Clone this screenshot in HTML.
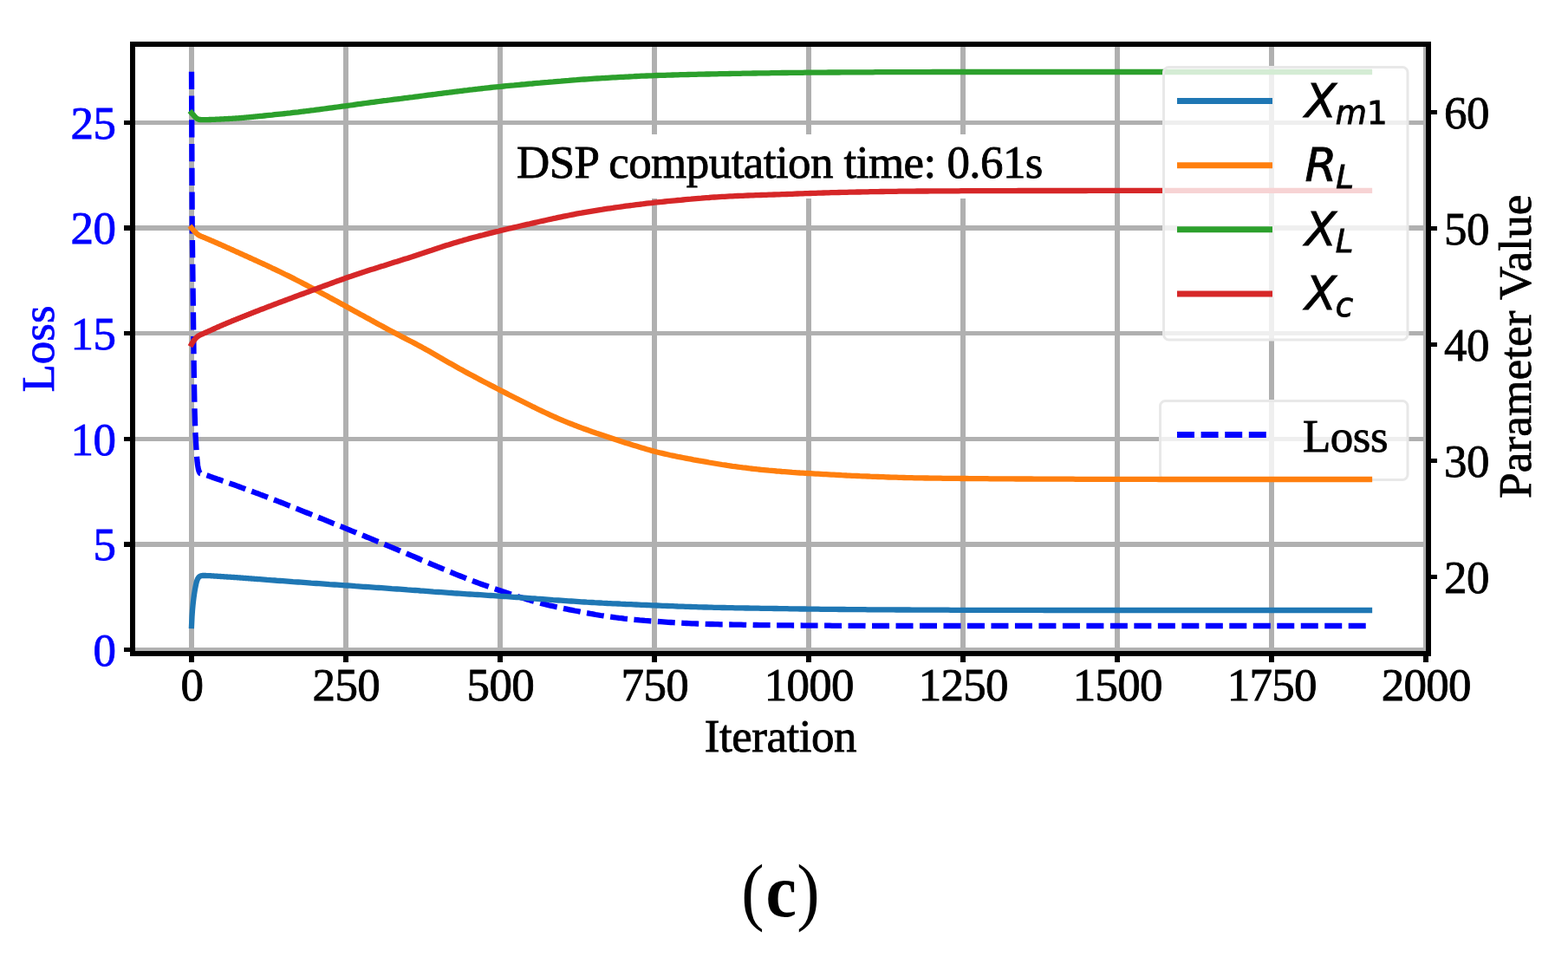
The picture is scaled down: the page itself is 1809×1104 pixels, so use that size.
<!DOCTYPE html>
<html lang="en"><head><meta charset="utf-8"><title>Loss and parameter convergence (c)</title>
<style>
html,body{margin:0;padding:0;background:#fff;}
body{width:1809px;height:1104px;overflow:hidden;}
svg{display:block;}
text{font-family:"Liberation Serif","Times New Roman",serif;font-size:53px;fill:#000;stroke:#000;stroke-width:0.8px;}
.b{fill:#00f;stroke:#00f;}
.m{font-family:"DejaVu Sans","Liberation Sans",sans-serif;font-style:italic;stroke-width:0.9px;}
.mr{font-family:"DejaVu Sans","Liberation Sans",sans-serif;font-style:normal;}
.ln{fill:none;stroke-width:6.3;stroke-linecap:square;stroke-linejoin:round;}
.ds{fill:none;stroke:#00f;stroke-width:6.3;stroke-linejoin:round;}
</style></head><body>
<svg width="1809" height="1104" viewBox="0 0 1809 1104">
<rect width="1809" height="1104" fill="#fff"/>
<defs><clipPath id="ax"><rect x="153" y="51" width="1495" height="703"/></clipPath></defs>

<g clip-path="url(#ax)" stroke="#b0b0b0" stroke-width="6" fill="none">
<line x1="221" y1="51" x2="221" y2="754"/>
<line x1="399" y1="51" x2="399" y2="754"/>
<line x1="577" y1="51" x2="577" y2="754"/>
<line x1="755" y1="51" x2="755" y2="754"/>
<line x1="933" y1="51" x2="933" y2="754"/>
<line x1="1111" y1="51" x2="1111" y2="754"/>
<line x1="1289" y1="51" x2="1289" y2="754"/>
<line x1="1467" y1="51" x2="1467" y2="754"/>
<line x1="1645" y1="51" x2="1645" y2="754"/>
<rect x="153" y="747" width="1495" height="5" fill="#b0b0b0" stroke="none"/>
<rect x="153" y="625" width="1495" height="6" fill="#b0b0b0" stroke="none"/>
<rect x="153" y="504" width="1495" height="5" fill="#b0b0b0" stroke="none"/>
<rect x="153" y="382" width="1495" height="5" fill="#b0b0b0" stroke="none"/>
<rect x="153" y="260" width="1495" height="6" fill="#b0b0b0" stroke="none"/>
<rect x="153" y="139" width="1495" height="5" fill="#b0b0b0" stroke="none"/>
</g>
<g transform="scale(1 1.0157)"><path class="ds" d="M221.00 81.52 L221.71 255.98 L222.42 313.08 L223.14 371.17 L223.85 428.28 L224.56 465.69 L225.27 489.32 L225.98 502.12 L226.70 513.93 L227.41 522.79 L228.12 528.70 L228.83 532.64 L229.54 535.10 L230.26 536.58 L230.97 537.56 L232.50 537.86 L234.00 538.35" stroke-dasharray="19.89 7.43"/></g>
<path class="ds" d="M234.0 546.8 L237.0 547.8 L240.0 548.8 L243.0 549.9 L246.0 551.0 L249.0 552.0 L252.0 553.1 L255.0 554.1 L258.0 555.1 L261.0 556.2 L264.0 557.2 L267.0 558.3 L270.0 559.3 L273.0 560.4 L276.0 561.5 L279.0 562.6 L282.0 563.7 L285.0 564.8 L288.0 565.9 L291.0 567.0 L294.0 568.1 L297.0 569.2 L300.0 570.4 L303.0 571.5 L306.0 572.6 L309.0 573.8 L312.0 574.9 L315.0 576.1 L318.0 577.2 L321.0 578.4 L324.0 579.5 L327.0 580.7 L330.0 581.9 L333.0 583.1 L336.0 584.3 L339.0 585.5 L342.0 586.7 L345.0 587.9 L348.0 589.1 L351.0 590.3 L354.0 591.5 L357.0 592.7 L360.0 593.9 L363.0 595.1 L366.0 596.3 L369.0 597.5 L372.0 598.7 L375.0 599.9 L378.0 601.1 L381.0 602.3 L384.0 603.6 L387.0 604.8 L390.0 606.0 L393.0 607.2 L396.0 608.4 L399.0 609.6 L402.0 610.8 L405.0 612.1 L408.0 613.3 L411.0 614.5 L414.0 615.8 L417.0 617.0 L420.0 618.2 L423.0 619.5 L426.0 620.7 L429.0 621.9 L432.0 623.2 L435.0 624.4 L438.0 625.6 L441.0 626.9 L444.0 628.1 L447.0 629.4 L450.0 630.6 L453.0 631.8 L456.0 633.1 L459.0 634.3 L462.0 635.6 L465.0 636.9 L468.0 638.1 L471.0 639.4 L474.0 640.7 L477.0 641.9 L480.0 643.2 L483.0 644.5 L486.0 645.8 L489.0 647.0 L492.0 648.3 L495.0 649.6 L498.0 650.9 L501.0 652.1 L504.0 653.4 L507.0 654.6 L510.0 655.9 L513.0 657.1 L516.0 658.4 L519.0 659.6 L522.0 660.8 L525.0 662.1 L528.0 663.3 L531.0 664.5 L534.0 665.7 L537.0 666.9 L540.0 668.1 L543.0 669.3 L546.0 670.4 L549.0 671.5 L552.0 672.6 L555.0 673.7 L558.0 674.8 L561.0 675.8 L564.0 676.9 L567.0 677.9 L570.0 678.9 L573.0 679.9 L576.0 680.9 L579.0 682.0 L582.0 683.0 L585.0 684.0 L588.0 685.0 L591.0 685.9 L594.0 686.9 L597.0 687.9 L600.0 688.9 L603.0 689.8 L606.0 690.7 L609.0 691.7 L612.0 692.6 L615.0 693.4 L618.0 694.3 L621.0 695.1 L624.0 695.9 L627.0 696.7 L630.0 697.4 L633.0 698.2 L636.0 698.9 L639.0 699.5 L642.0 700.2 L645.0 700.8 L648.0 701.5 L651.0 702.1 L654.0 702.7 L657.0 703.3 L660.0 703.9 L663.0 704.5 L666.0 705.0 L669.0 705.6 L672.0 706.2 L675.0 706.8 L678.0 707.3 L681.0 707.9 L684.0 708.4 L687.0 709.0 L690.0 709.5 L693.0 710.0 L696.0 710.4 L699.0 710.9 L702.0 711.3 L705.0 711.7 L708.0 712.1 L711.0 712.5 L714.0 712.9 L717.0 713.2 L720.0 713.6 L723.0 713.9 L726.0 714.2 L729.0 714.5 L732.0 714.8 L735.0 715.1 L738.0 715.4 L741.0 715.6 L744.0 715.9 L747.0 716.1 L750.0 716.4 L753.0 716.6 L756.0 716.8 L759.0 717.0 L762.0 717.2 L765.0 717.4 L768.0 717.6 L771.0 717.8 L774.0 718.0 L777.0 718.2 L780.0 718.4 L783.0 718.5 L786.0 718.7 L789.0 718.9 L792.0 719.0 L795.0 719.1 L798.0 719.3 L801.0 719.4 L804.0 719.5 L807.0 719.6 L810.0 719.7 L813.0 719.8 L816.0 719.9 L819.0 720.0 L822.0 720.0 L825.0 720.1 L828.0 720.2 L831.0 720.3 L834.0 720.3 L837.0 720.4 L840.0 720.5 L843.0 720.5 L846.0 720.6 L849.0 720.6 L852.0 720.7 L855.0 720.7 L858.0 720.8 L861.0 720.8 L864.0 720.9 L867.0 720.9 L870.0 721.0 L873.0 721.0 L876.0 721.1 L879.0 721.1 L882.0 721.1 L885.0 721.2 L888.0 721.2 L891.0 721.2 L894.0 721.3 L897.0 721.3 L900.0 721.3 L903.0 721.4 L906.0 721.4 L909.0 721.4 L912.0 721.4 L915.0 721.5 L918.0 721.5 L921.0 721.5 L924.0 721.5 L927.0 721.6 L930.0 721.6 L933.0 721.6 L936.0 721.6 L939.0 721.6 L942.0 721.7 L945.0 721.7 L948.0 721.7 L951.0 721.7 L954.0 721.7 L957.0 721.7 L960.0 721.8 L963.0 721.8 L966.0 721.8 L969.0 721.8 L972.0 721.8 L975.0 721.9 L978.0 721.9 L981.0 721.9 L984.0 721.9 L987.0 721.9 L990.0 721.9 L993.0 721.9 L996.0 721.9 L999.0 722.0 L1002.0 722.0 L1005.0 722.0 L1008.0 722.0 L1011.0 722.0 L1014.0 722.0 L1017.0 722.0 L1020.0 722.0 L1023.0 722.0 L1026.0 722.0 L1029.0 722.0 L1032.0 722.0 L1035.0 722.0 L1038.0 722.0 L1041.0 722.0 L1044.0 722.0 L1047.0 722.0 L1050.0 722.0 L1053.0 722.0 L1056.0 722.0 L1059.0 722.0 L1062.0 722.0 L1065.0 722.0 L1068.0 722.0 L1071.0 722.0 L1074.0 722.0 L1077.0 722.0 L1080.0 722.0 L1083.0 722.0 L1086.0 722.0 L1089.0 722.0 L1092.0 722.0 L1095.0 722.0 L1098.0 722.0 L1101.0 722.0 L1104.0 722.0 L1107.0 722.0 L1110.0 722.0 L1113.0 722.0 L1116.0 722.0 L1119.0 722.0 L1122.0 722.0 L1125.0 722.0 L1128.0 722.0 L1131.0 722.0 L1134.0 722.0 L1137.0 722.0 L1140.0 722.0 L1143.0 722.0 L1146.0 722.0 L1149.0 722.0 L1152.0 722.0 L1155.0 722.0 L1158.0 722.0 L1161.0 722.0 L1164.0 722.0 L1167.0 722.0 L1170.0 722.0 L1173.0 722.0 L1176.0 722.0 L1179.0 722.0 L1182.0 722.0 L1185.0 722.0 L1188.0 722.0 L1191.0 722.0 L1194.0 722.0 L1197.0 722.0 L1200.0 722.0 L1203.0 722.0 L1206.0 722.0 L1209.0 722.0 L1212.0 722.0 L1215.0 722.0 L1218.0 722.0 L1221.0 722.0 L1224.0 722.0 L1227.0 722.0 L1230.0 722.0 L1233.0 722.0 L1236.0 722.0 L1239.0 722.0 L1242.0 722.0 L1245.0 722.0 L1248.0 722.0 L1251.0 722.0 L1254.0 722.0 L1257.0 722.0 L1260.0 722.0 L1263.0 722.0 L1266.0 722.0 L1269.0 722.0 L1272.0 722.0 L1275.0 722.0 L1278.0 722.0 L1281.0 722.0 L1284.0 722.0 L1287.0 722.0 L1290.0 722.0 L1293.0 722.0 L1296.0 722.0 L1299.0 722.0 L1302.0 722.0 L1305.0 722.0 L1308.0 722.0 L1311.0 722.0 L1314.0 722.0 L1317.0 722.0 L1320.0 722.0 L1323.0 722.0 L1326.0 722.0 L1329.0 722.0 L1332.0 722.0 L1335.0 722.0 L1338.0 722.0 L1341.0 722.0 L1344.0 722.0 L1347.0 722.0 L1350.0 722.0 L1353.0 722.0 L1356.0 722.0 L1359.0 722.0 L1362.0 722.0 L1365.0 722.0 L1368.0 722.0 L1371.0 722.0 L1374.0 722.0 L1377.0 722.0 L1380.0 722.0 L1383.0 722.0 L1386.0 722.0 L1389.0 722.0 L1392.0 722.0 L1395.0 722.0 L1398.0 722.0 L1401.0 722.0 L1404.0 722.0 L1407.0 722.0 L1410.0 722.0 L1413.0 722.0 L1416.0 722.0 L1419.0 722.0 L1422.0 722.0 L1425.0 722.0 L1428.0 722.0 L1431.0 722.0 L1434.0 722.0 L1437.0 722.0 L1440.0 722.0 L1443.0 722.0 L1446.0 722.0 L1449.0 722.0 L1452.0 722.0 L1455.0 722.0 L1458.0 722.0 L1461.0 722.0 L1464.0 722.0 L1467.0 722.0 L1470.0 722.0 L1473.0 722.0 L1476.0 722.0 L1479.0 722.0 L1482.0 722.0 L1485.0 722.0 L1488.0 722.0 L1491.0 722.0 L1494.0 722.0 L1497.0 722.0 L1500.0 722.0 L1503.0 722.0 L1506.0 722.0 L1509.0 722.0 L1512.0 722.0 L1515.0 722.0 L1518.0 722.0 L1521.0 722.0 L1524.0 722.0 L1527.0 722.0 L1530.0 722.0 L1533.0 722.0 L1536.0 722.0 L1539.0 722.0 L1542.0 722.0 L1545.0 722.0 L1548.0 722.0 L1551.0 722.0 L1554.0 722.0 L1557.0 722.0 L1560.0 722.0 L1563.0 722.0 L1566.0 722.0 L1569.0 722.0 L1572.0 722.0 L1575.0 722.0 L1578.0 722.0 L1580.0 722.0" stroke-dasharray="20.0 7.484" stroke-dashoffset="22.74"/>
<rect x="583" y="155" width="634" height="74" fill="#fff"/>
<text transform="translate(596.0 205.0) scale(1 1.0157)" textLength="607.5" lengthAdjust="spacing">DSP computation time: 0.61s</text>
<g stroke="#000" fill="none">
<line x1="221" y1="754" x2="221" y2="764" stroke-width="6"/>
<line x1="399" y1="754" x2="399" y2="764" stroke-width="6"/>
<line x1="577" y1="754" x2="577" y2="764" stroke-width="6"/>
<line x1="755" y1="754" x2="755" y2="764" stroke-width="6"/>
<line x1="933" y1="754" x2="933" y2="764" stroke-width="6"/>
<line x1="1111" y1="754" x2="1111" y2="764" stroke-width="6"/>
<line x1="1289" y1="754" x2="1289" y2="764" stroke-width="6"/>
<line x1="1467" y1="754" x2="1467" y2="764" stroke-width="6"/>
<line x1="1645" y1="754" x2="1645" y2="764" stroke-width="6"/>
<rect x="143" y="747" width="10" height="5" fill="#000" stroke="none"/>
<rect x="143" y="625" width="10" height="6" fill="#000" stroke="none"/>
<rect x="143" y="504" width="10" height="5" fill="#000" stroke="none"/>
<rect x="143" y="382" width="10" height="5" fill="#000" stroke="none"/>
<rect x="143" y="260" width="10" height="6" fill="#000" stroke="none"/>
<rect x="143" y="139" width="10" height="5" fill="#000" stroke="none"/>
</g>
<rect x="153" y="51" width="1495" height="703" fill="none" stroke="#000" stroke-width="6"/>
<rect x="1338.5" y="462.5" width="285.5" height="91" rx="6" ry="6" fill="#fff" fill-opacity="0.8" stroke="#e8e8e8" stroke-width="3"/>
<line x1="1358" y1="501.5" x2="1461" y2="501.5" stroke="#00f" stroke-width="7" stroke-dasharray="20 7.6"/>
<text transform="translate(1503.0 520.5) scale(1 1.0157)" textLength="98.6" lengthAdjust="spacing">Loss</text>
<g clip-path="url(#ax)">
<path class="ln" d="M221.0 722.0 L221.5 711.3 L222.0 704.1 L222.5 698.5 L223.0 693.8 L223.5 689.7 L224.0 686.0 L224.5 682.7 L225.0 679.8 L225.5 677.2 L226.0 674.7 L226.5 672.4 L227.0 670.5 L227.5 669.1 L228.0 667.9 L228.5 667.0 L229.0 666.3 L229.5 665.7 L230.0 665.2 L230.5 664.9 L231.0 664.6 L231.5 664.4 L232.0 664.3 L232.5 664.2 L233.0 664.1 L233.5 664.0 L234.0 664.0 L234.5 664.0 L235.0 664.0 L235.5 664.0 L236.0 664.0 L236.5 664.0 L237.0 664.0 L237.5 664.0 L238.0 664.1 L238.5 664.1 L239.0 664.1 L239.5 664.1 L240.0 664.1 L240.5 664.1 L241.0 664.1 L241.5 664.2 L242.0 664.2 L242.5 664.2 L243.0 664.2 L243.5 664.3 L244.0 664.3 L244.5 664.3 L245.0 664.4 L245.5 664.4 L246.0 664.4 L246.5 664.5 L247.0 664.5 L247.5 664.6 L248.0 664.6 L248.5 664.6 L249.0 664.6 L249.5 664.7 L250.0 664.7 L250.5 664.7 L251.0 664.8 L251.5 664.8 L252.0 664.8 L252.5 664.9 L253.0 664.9 L253.5 664.9 L254.0 665.0 L254.5 665.0 L255.0 665.0 L255.5 665.1 L256.0 665.1 L256.5 665.1 L257.0 665.2 L257.5 665.2 L258.0 665.2 L258.5 665.3 L259.0 665.3 L259.5 665.3 L260.0 665.4 L260.5 665.4 L261.0 665.4 L261.5 665.5 L262.0 665.5 L262.5 665.5 L263.0 665.6 L263.5 665.6 L264.0 665.6 L264.5 665.6 L265.0 665.7 L265.5 665.7 L266.0 665.7 L266.5 665.8 L267.0 665.8 L267.5 665.8 L268.0 665.9 L268.5 665.9 L269.0 665.9 L269.5 666.0 L270.0 666.0 L270.5 666.0 L271.0 666.1 L271.5 666.1 L272.0 666.1 L272.5 666.2 L273.0 666.2 L273.5 666.2 L274.0 666.3 L274.5 666.3 L275.0 666.4 L275.5 666.4 L276.0 666.4 L276.5 666.5 L277.0 666.5 L277.5 666.5 L278.0 666.6 L278.5 666.6 L279.0 666.7 L279.5 666.7 L280.0 666.7 L280.5 666.8 L281.0 666.8 L281.5 666.8 L282.0 666.9 L282.5 666.9 L283.0 667.0 L283.5 667.0 L284.0 667.0 L284.5 667.1 L285.0 667.1 L285.5 667.2 L286.0 667.2 L286.5 667.2 L287.0 667.3 L287.5 667.3 L288.0 667.4 L288.5 667.4 L289.0 667.4 L289.5 667.5 L290.0 667.5 L290.5 667.5 L291.0 667.6 L291.5 667.6 L292.0 667.7 L292.5 667.7 L293.0 667.7 L293.5 667.8 L294.0 667.8 L294.5 667.9 L295.0 667.9 L295.5 667.9 L296.0 668.0 L296.5 668.0 L297.0 668.0 L297.5 668.1 L298.0 668.1 L298.5 668.2 L299.0 668.2 L299.5 668.2 L302.0 668.4 L305.0 668.6 L308.0 668.9 L311.0 669.1 L314.0 669.3 L317.0 669.5 L320.0 669.8 L323.0 670.0 L326.0 670.2 L329.0 670.4 L332.0 670.6 L335.0 670.8 L338.0 671.1 L341.0 671.3 L344.0 671.5 L347.0 671.7 L350.0 671.9 L353.0 672.1 L356.0 672.3 L359.0 672.6 L362.0 672.8 L365.0 673.0 L368.0 673.2 L371.0 673.4 L374.0 673.6 L377.0 673.8 L380.0 674.1 L383.0 674.3 L386.0 674.5 L389.0 674.7 L392.0 674.9 L395.0 675.1 L398.0 675.3 L401.0 675.5 L404.0 675.7 L407.0 675.9 L410.0 676.2 L413.0 676.4 L416.0 676.6 L419.0 676.8 L422.0 677.0 L425.0 677.2 L428.0 677.4 L431.0 677.6 L434.0 677.8 L437.0 678.0 L440.0 678.2 L443.0 678.4 L446.0 678.6 L449.0 678.8 L452.0 679.1 L455.0 679.3 L458.0 679.5 L461.0 679.7 L464.0 679.9 L467.0 680.1 L470.0 680.4 L473.0 680.6 L476.0 680.8 L479.0 681.0 L482.0 681.2 L485.0 681.5 L488.0 681.7 L491.0 681.9 L494.0 682.1 L497.0 682.3 L500.0 682.6 L503.0 682.8 L506.0 683.0 L509.0 683.2 L512.0 683.4 L515.0 683.6 L518.0 683.8 L521.0 684.0 L524.0 684.3 L527.0 684.5 L530.0 684.7 L533.0 684.9 L536.0 685.1 L539.0 685.3 L542.0 685.5 L545.0 685.7 L548.0 685.9 L551.0 686.0 L554.0 686.2 L557.0 686.4 L560.0 686.6 L563.0 686.8 L566.0 687.0 L569.0 687.2 L572.0 687.4 L575.0 687.6 L578.0 687.8 L581.0 688.0 L584.0 688.2 L587.0 688.4 L590.0 688.6 L593.0 688.8 L596.0 689.0 L599.0 689.2 L602.0 689.5 L605.0 689.7 L608.0 689.9 L611.0 690.1 L614.0 690.3 L617.0 690.5 L620.0 690.8 L623.0 691.0 L626.0 691.2 L629.0 691.4 L632.0 691.6 L635.0 691.8 L638.0 692.1 L641.0 692.3 L644.0 692.5 L647.0 692.7 L650.0 692.9 L653.0 693.1 L656.0 693.3 L659.0 693.5 L662.0 693.7 L665.0 693.9 L668.0 694.1 L671.0 694.3 L674.0 694.5 L677.0 694.7 L680.0 694.8 L683.0 695.0 L686.0 695.2 L689.0 695.3 L692.0 695.5 L695.0 695.7 L698.0 695.8 L701.0 696.0 L704.0 696.1 L707.0 696.3 L710.0 696.4 L713.0 696.5 L716.0 696.7 L719.0 696.8 L722.0 697.0 L725.0 697.1 L728.0 697.2 L731.0 697.4 L734.0 697.5 L737.0 697.6 L740.0 697.8 L743.0 697.9 L746.0 698.0 L749.0 698.1 L752.0 698.3 L755.0 698.4 L758.0 698.5 L761.0 698.6 L764.0 698.8 L767.0 698.9 L770.0 699.0 L773.0 699.1 L776.0 699.2 L779.0 699.3 L782.0 699.5 L785.0 699.6 L788.0 699.7 L791.0 699.8 L794.0 699.9 L797.0 700.0 L800.0 700.1 L803.0 700.2 L806.0 700.3 L809.0 700.4 L812.0 700.5 L815.0 700.5 L818.0 700.6 L821.0 700.7 L824.0 700.8 L827.0 700.8 L830.0 700.9 L833.0 701.0 L836.0 701.0 L839.0 701.1 L842.0 701.1 L845.0 701.2 L848.0 701.3 L851.0 701.3 L854.0 701.4 L857.0 701.4 L860.0 701.5 L863.0 701.5 L866.0 701.6 L869.0 701.6 L872.0 701.7 L875.0 701.7 L878.0 701.8 L881.0 701.8 L884.0 701.9 L887.0 701.9 L890.0 701.9 L893.0 702.0 L896.0 702.0 L899.0 702.1 L902.0 702.1 L905.0 702.2 L908.0 702.2 L911.0 702.3 L914.0 702.3 L917.0 702.4 L920.0 702.4 L923.0 702.5 L926.0 702.5 L929.0 702.5 L932.0 702.6 L935.0 702.6 L938.0 702.6 L941.0 702.7 L944.0 702.7 L947.0 702.8 L950.0 702.8 L953.0 702.8 L956.0 702.8 L959.0 702.9 L962.0 702.9 L965.0 702.9 L968.0 703.0 L971.0 703.0 L974.0 703.0 L977.0 703.1 L980.0 703.1 L983.0 703.1 L986.0 703.1 L989.0 703.2 L992.0 703.2 L995.0 703.2 L998.0 703.2 L1001.0 703.3 L1004.0 703.3 L1007.0 703.3 L1010.0 703.3 L1013.0 703.3 L1016.0 703.4 L1019.0 703.4 L1022.0 703.4 L1025.0 703.4 L1028.0 703.4 L1031.0 703.4 L1034.0 703.5 L1037.0 703.5 L1040.0 703.5 L1043.0 703.5 L1046.0 703.5 L1049.0 703.5 L1052.0 703.6 L1055.0 703.6 L1058.0 703.6 L1061.0 703.6 L1064.0 703.6 L1067.0 703.6 L1070.0 703.7 L1073.0 703.7 L1076.0 703.7 L1079.0 703.7 L1082.0 703.7 L1085.0 703.7 L1088.0 703.7 L1091.0 703.7 L1094.0 703.7 L1097.0 703.8 L1100.0 703.8 L1103.0 703.8 L1106.0 703.8 L1109.0 703.8 L1112.0 703.8 L1115.0 703.8 L1118.0 703.8 L1121.0 703.8 L1124.0 703.8 L1127.0 703.8 L1130.0 703.8 L1133.0 703.9 L1136.0 703.9 L1139.0 703.9 L1142.0 703.9 L1145.0 703.9 L1148.0 703.9 L1151.0 703.9 L1154.0 703.9 L1157.0 703.9 L1160.0 703.9 L1163.0 703.9 L1166.0 703.9 L1169.0 703.9 L1172.0 703.9 L1175.0 703.9 L1178.0 703.9 L1181.0 703.9 L1184.0 703.9 L1187.0 703.9 L1190.0 703.9 L1193.0 703.9 L1196.0 703.9 L1199.0 703.9 L1202.0 703.9 L1205.0 704.0 L1208.0 704.0 L1211.0 704.0 L1214.0 704.0 L1217.0 704.0 L1220.0 704.0 L1223.0 704.0 L1226.0 704.0 L1229.0 704.0 L1232.0 704.0 L1235.0 704.0 L1238.0 704.0 L1241.0 704.0 L1244.0 704.0 L1247.0 704.0 L1250.0 704.0 L1253.0 704.0 L1256.0 704.0 L1259.0 704.0 L1262.0 704.0 L1265.0 704.0 L1268.0 704.0 L1271.0 704.0 L1274.0 704.0 L1277.0 704.0 L1280.0 704.0 L1283.0 704.0 L1286.0 704.0 L1289.0 704.0 L1292.0 704.0 L1295.0 704.0 L1298.0 704.0 L1301.0 704.0 L1304.0 704.0 L1307.0 704.0 L1310.0 704.0 L1313.0 704.0 L1316.0 704.0 L1319.0 704.0 L1322.0 704.0 L1325.0 704.0 L1328.0 704.0 L1331.0 704.0 L1334.0 704.0 L1337.0 704.0 L1340.0 704.0 L1343.0 704.0 L1346.0 704.0 L1349.0 704.0 L1352.0 704.0 L1355.0 704.0 L1358.0 704.0 L1361.0 704.0 L1364.0 704.0 L1367.0 704.0 L1370.0 704.0 L1373.0 704.0 L1376.0 704.0 L1379.0 704.0 L1382.0 704.0 L1385.0 704.0 L1388.0 704.0 L1391.0 704.0 L1394.0 704.0 L1397.0 704.0 L1400.0 704.0 L1403.0 704.0 L1406.0 704.0 L1409.0 704.0 L1412.0 704.0 L1415.0 704.0 L1418.0 704.0 L1421.0 704.0 L1424.0 704.0 L1427.0 704.0 L1430.0 704.0 L1433.0 704.0 L1436.0 704.0 L1439.0 704.0 L1442.0 704.0 L1445.0 704.0 L1448.0 704.0 L1451.0 704.0 L1454.0 704.0 L1457.0 704.0 L1460.0 704.0 L1463.0 704.0 L1466.0 704.0 L1469.0 704.0 L1472.0 704.0 L1475.0 704.0 L1478.0 704.0 L1481.0 704.0 L1484.0 704.0 L1487.0 704.0 L1490.0 704.0 L1493.0 704.0 L1496.0 704.0 L1499.0 704.0 L1502.0 704.0 L1505.0 704.0 L1508.0 704.0 L1511.0 704.0 L1514.0 704.0 L1517.0 704.0 L1520.0 704.0 L1523.0 704.0 L1526.0 704.0 L1529.0 704.0 L1532.0 704.0 L1535.0 704.0 L1538.0 704.0 L1541.0 704.0 L1544.0 704.0 L1547.0 704.0 L1550.0 704.0 L1553.0 704.0 L1556.0 704.0 L1559.0 704.0 L1562.0 704.0 L1565.0 704.0 L1568.0 704.0 L1571.0 704.0 L1574.0 704.0 L1577.0 704.0 L1580.0 704.0" stroke="#1f77b4"/>
<path class="ln" d="M221.0 263.0 L221.5 263.6 L222.0 264.2 L222.5 264.8 L223.0 265.4 L223.5 265.9 L224.0 266.5 L224.5 267.0 L225.0 267.5 L225.5 268.1 L226.0 268.6 L226.5 269.0 L227.0 269.5 L227.5 269.9 L228.0 270.3 L228.5 270.7 L229.0 271.1 L229.5 271.4 L230.0 271.7 L230.5 271.9 L231.0 272.2 L231.5 272.4 L232.0 272.6 L232.5 272.8 L233.0 273.0 L233.5 273.2 L234.0 273.4 L234.5 273.6 L235.0 273.8 L235.5 274.0 L236.0 274.2 L236.5 274.4 L237.0 274.6 L237.5 274.8 L238.0 275.1 L238.5 275.3 L239.0 275.5 L239.5 275.7 L240.0 275.9 L240.5 276.1 L241.0 276.3 L241.5 276.5 L242.0 276.7 L242.5 277.0 L243.0 277.2 L243.5 277.4 L244.0 277.6 L244.5 277.8 L245.0 278.0 L245.5 278.3 L246.0 278.5 L246.5 278.7 L247.0 278.9 L247.5 279.1 L248.0 279.3 L248.5 279.6 L249.0 279.8 L249.5 280.0 L250.0 280.2 L250.5 280.4 L251.0 280.7 L251.5 280.9 L252.0 281.1 L252.5 281.3 L253.0 281.5 L253.5 281.8 L254.0 282.0 L254.5 282.2 L255.0 282.4 L255.5 282.6 L256.0 282.9 L256.5 283.1 L257.0 283.3 L257.5 283.5 L258.0 283.8 L258.5 284.0 L259.0 284.2 L259.5 284.4 L260.0 284.7 L260.5 284.9 L261.0 285.1 L261.5 285.3 L262.0 285.6 L262.5 285.8 L263.0 286.0 L263.5 286.2 L264.0 286.4 L264.5 286.7 L265.0 286.9 L265.5 287.1 L266.0 287.3 L266.5 287.6 L267.0 287.8 L267.5 288.0 L268.0 288.2 L268.5 288.5 L269.0 288.7 L269.5 288.9 L270.0 289.2 L270.5 289.4 L271.0 289.6 L271.5 289.8 L272.0 290.1 L272.5 290.3 L273.0 290.5 L273.5 290.7 L274.0 291.0 L274.5 291.2 L275.0 291.4 L275.5 291.6 L276.0 291.9 L276.5 292.1 L277.0 292.3 L277.5 292.5 L278.0 292.8 L278.5 293.0 L279.0 293.2 L279.5 293.4 L280.0 293.7 L280.5 293.9 L281.0 294.1 L281.5 294.3 L282.0 294.6 L282.5 294.8 L283.0 295.0 L283.5 295.2 L284.0 295.5 L284.5 295.7 L285.0 295.9 L285.5 296.1 L286.0 296.4 L286.5 296.6 L287.0 296.8 L287.5 297.0 L288.0 297.3 L288.5 297.5 L289.0 297.7 L289.5 298.0 L290.0 298.2 L290.5 298.4 L291.0 298.6 L291.5 298.9 L292.0 299.1 L292.5 299.3 L293.0 299.5 L293.5 299.8 L294.0 300.0 L294.5 300.2 L295.0 300.5 L295.5 300.7 L296.0 300.9 L296.5 301.1 L297.0 301.4 L297.5 301.6 L298.0 301.8 L298.5 302.1 L299.0 302.3 L299.5 302.5 L302.0 303.7 L305.0 305.0 L308.0 306.4 L311.0 307.8 L314.0 309.3 L317.0 310.7 L320.0 312.1 L323.0 313.5 L326.0 315.0 L329.0 316.5 L332.0 317.9 L335.0 319.4 L338.0 320.9 L341.0 322.5 L344.0 324.0 L347.0 325.5 L350.0 327.1 L353.0 328.6 L356.0 330.2 L359.0 331.8 L362.0 333.3 L365.0 334.9 L368.0 336.5 L371.0 338.1 L374.0 339.7 L377.0 341.3 L380.0 343.0 L383.0 344.6 L386.0 346.2 L389.0 347.8 L392.0 349.5 L395.0 351.1 L398.0 352.8 L401.0 354.4 L404.0 356.1 L407.0 357.7 L410.0 359.4 L413.0 361.0 L416.0 362.7 L419.0 364.3 L422.0 366.0 L425.0 367.6 L428.0 369.3 L431.0 370.9 L434.0 372.6 L437.0 374.2 L440.0 375.8 L443.0 377.4 L446.0 379.1 L449.0 380.7 L452.0 382.3 L455.0 383.9 L458.0 385.4 L461.0 387.0 L464.0 388.6 L467.0 390.1 L470.0 391.7 L473.0 393.3 L476.0 394.8 L479.0 396.4 L482.0 398.0 L485.0 399.6 L488.0 401.3 L491.0 402.9 L494.0 404.6 L497.0 406.3 L500.0 408.0 L503.0 409.7 L506.0 411.5 L509.0 413.2 L512.0 415.0 L515.0 416.7 L518.0 418.4 L521.0 420.1 L524.0 421.8 L527.0 423.5 L530.0 425.2 L533.0 426.8 L536.0 428.5 L539.0 430.1 L542.0 431.7 L545.0 433.3 L548.0 434.9 L551.0 436.5 L554.0 438.1 L557.0 439.7 L560.0 441.3 L563.0 442.8 L566.0 444.4 L569.0 445.9 L572.0 447.5 L575.0 449.0 L578.0 450.6 L581.0 452.1 L584.0 453.6 L587.0 455.2 L590.0 456.7 L593.0 458.2 L596.0 459.7 L599.0 461.3 L602.0 462.8 L605.0 464.3 L608.0 465.8 L611.0 467.3 L614.0 468.8 L617.0 470.2 L620.0 471.7 L623.0 473.2 L626.0 474.6 L629.0 476.0 L632.0 477.4 L635.0 478.8 L638.0 480.2 L641.0 481.5 L644.0 482.8 L647.0 484.1 L650.0 485.4 L653.0 486.6 L656.0 487.8 L659.0 489.0 L662.0 490.2 L665.0 491.3 L668.0 492.5 L671.0 493.6 L674.0 494.7 L677.0 495.8 L680.0 496.9 L683.0 498.0 L686.0 499.0 L689.0 500.1 L692.0 501.1 L695.0 502.1 L698.0 503.1 L701.0 504.1 L704.0 505.1 L707.0 506.1 L710.0 507.1 L713.0 508.0 L716.0 509.0 L719.0 509.9 L722.0 510.9 L725.0 511.8 L728.0 512.8 L731.0 513.7 L734.0 514.6 L737.0 515.5 L740.0 516.4 L743.0 517.3 L746.0 518.2 L749.0 519.0 L752.0 519.9 L755.0 520.7 L758.0 521.5 L761.0 522.2 L764.0 522.9 L767.0 523.6 L770.0 524.3 L773.0 525.0 L776.0 525.6 L779.0 526.2 L782.0 526.9 L785.0 527.4 L788.0 528.0 L791.0 528.6 L794.0 529.2 L797.0 529.7 L800.0 530.3 L803.0 530.8 L806.0 531.4 L809.0 531.9 L812.0 532.4 L815.0 532.9 L818.0 533.5 L821.0 534.0 L824.0 534.5 L827.0 535.0 L830.0 535.5 L833.0 536.0 L836.0 536.4 L839.0 536.9 L842.0 537.3 L845.0 537.8 L848.0 538.2 L851.0 538.6 L854.0 539.0 L857.0 539.4 L860.0 539.7 L863.0 540.1 L866.0 540.5 L869.0 540.8 L872.0 541.1 L875.0 541.5 L878.0 541.8 L881.0 542.1 L884.0 542.4 L887.0 542.7 L890.0 542.9 L893.0 543.2 L896.0 543.5 L899.0 543.7 L902.0 544.0 L905.0 544.2 L908.0 544.4 L911.0 544.6 L914.0 544.9 L917.0 545.1 L920.0 545.3 L923.0 545.5 L926.0 545.6 L929.0 545.8 L932.0 546.0 L935.0 546.2 L938.0 546.4 L941.0 546.6 L944.0 546.7 L947.0 546.9 L950.0 547.1 L953.0 547.2 L956.0 547.4 L959.0 547.6 L962.0 547.7 L965.0 547.9 L968.0 548.0 L971.0 548.2 L974.0 548.3 L977.0 548.5 L980.0 548.6 L983.0 548.8 L986.0 548.9 L989.0 549.0 L992.0 549.2 L995.0 549.3 L998.0 549.4 L1001.0 549.5 L1004.0 549.7 L1007.0 549.8 L1010.0 549.9 L1013.0 550.0 L1016.0 550.1 L1019.0 550.2 L1022.0 550.4 L1025.0 550.5 L1028.0 550.6 L1031.0 550.7 L1034.0 550.7 L1037.0 550.8 L1040.0 550.9 L1043.0 551.0 L1046.0 551.1 L1049.0 551.1 L1052.0 551.2 L1055.0 551.3 L1058.0 551.3 L1061.0 551.4 L1064.0 551.4 L1067.0 551.5 L1070.0 551.5 L1073.0 551.6 L1076.0 551.6 L1079.0 551.6 L1082.0 551.7 L1085.0 551.7 L1088.0 551.8 L1091.0 551.8 L1094.0 551.8 L1097.0 551.9 L1100.0 551.9 L1103.0 551.9 L1106.0 551.9 L1109.0 552.0 L1112.0 552.0 L1115.0 552.0 L1118.0 552.1 L1121.0 552.1 L1124.0 552.1 L1127.0 552.1 L1130.0 552.2 L1133.0 552.2 L1136.0 552.2 L1139.0 552.2 L1142.0 552.3 L1145.0 552.3 L1148.0 552.3 L1151.0 552.3 L1154.0 552.3 L1157.0 552.4 L1160.0 552.4 L1163.0 552.4 L1166.0 552.4 L1169.0 552.4 L1172.0 552.5 L1175.0 552.5 L1178.0 552.5 L1181.0 552.5 L1184.0 552.5 L1187.0 552.5 L1190.0 552.5 L1193.0 552.6 L1196.0 552.6 L1199.0 552.6 L1202.0 552.6 L1205.0 552.6 L1208.0 552.6 L1211.0 552.6 L1214.0 552.7 L1217.0 552.7 L1220.0 552.7 L1223.0 552.7 L1226.0 552.7 L1229.0 552.7 L1232.0 552.7 L1235.0 552.7 L1238.0 552.7 L1241.0 552.8 L1244.0 552.8 L1247.0 552.8 L1250.0 552.8 L1253.0 552.8 L1256.0 552.8 L1259.0 552.8 L1262.0 552.8 L1265.0 552.8 L1268.0 552.8 L1271.0 552.8 L1274.0 552.8 L1277.0 552.9 L1280.0 552.9 L1283.0 552.9 L1286.0 552.9 L1289.0 552.9 L1292.0 552.9 L1295.0 552.9 L1298.0 552.9 L1301.0 552.9 L1304.0 552.9 L1307.0 552.9 L1310.0 552.9 L1313.0 552.9 L1316.0 552.9 L1319.0 552.9 L1322.0 552.9 L1325.0 552.9 L1328.0 552.9 L1331.0 552.9 L1334.0 552.9 L1337.0 553.0 L1340.0 553.0 L1343.0 553.0 L1346.0 553.0 L1349.0 553.0 L1352.0 553.0 L1355.0 553.0 L1358.0 553.0 L1361.0 553.0 L1364.0 553.0 L1367.0 553.0 L1370.0 553.0 L1373.0 553.0 L1376.0 553.0 L1379.0 553.0 L1382.0 553.0 L1385.0 553.0 L1388.0 553.0 L1391.0 553.0 L1394.0 553.0 L1397.0 553.0 L1400.0 553.0 L1403.0 553.0 L1406.0 553.0 L1409.0 553.0 L1412.0 553.0 L1415.0 553.0 L1418.0 553.0 L1421.0 553.0 L1424.0 553.0 L1427.0 553.0 L1430.0 553.0 L1433.0 553.0 L1436.0 553.0 L1439.0 553.0 L1442.0 553.0 L1445.0 553.0 L1448.0 553.0 L1451.0 553.0 L1454.0 553.0 L1457.0 553.0 L1460.0 553.0 L1463.0 553.0 L1466.0 553.0 L1469.0 553.0 L1472.0 553.0 L1475.0 553.0 L1478.0 553.0 L1481.0 553.0 L1484.0 553.0 L1487.0 553.0 L1490.0 553.0 L1493.0 553.0 L1496.0 553.0 L1499.0 553.0 L1502.0 553.0 L1505.0 553.0 L1508.0 553.0 L1511.0 553.0 L1514.0 553.0 L1517.0 553.0 L1520.0 553.0 L1523.0 553.0 L1526.0 553.0 L1529.0 553.0 L1532.0 553.0 L1535.0 553.0 L1538.0 553.0 L1541.0 553.0 L1544.0 553.0 L1547.0 553.0 L1550.0 553.0 L1553.0 553.0 L1556.0 553.0 L1559.0 553.0 L1562.0 553.0 L1565.0 553.0 L1568.0 553.0 L1571.0 553.0 L1574.0 553.0 L1577.0 553.0 L1580.0 553.0" stroke="#ff7f0e"/>
<path class="ln" d="M221.0 130.3 L221.5 130.9 L222.0 131.4 L222.5 132.0 L223.0 132.6 L223.5 133.1 L224.0 133.7 L224.5 134.3 L225.0 134.8 L225.5 135.3 L226.0 135.8 L226.5 136.2 L227.0 136.6 L227.5 136.9 L228.0 137.2 L228.5 137.4 L229.0 137.6 L229.5 137.8 L230.0 137.9 L230.5 138.0 L231.0 138.0 L231.5 138.0 L232.0 138.1 L232.5 138.1 L233.0 138.1 L233.5 138.1 L234.0 138.1 L234.5 138.1 L235.0 138.1 L235.5 138.1 L236.0 138.1 L236.5 138.1 L237.0 138.1 L237.5 138.1 L238.0 138.1 L238.5 138.1 L239.0 138.1 L239.5 138.1 L240.0 138.1 L240.5 138.1 L241.0 138.0 L241.5 138.0 L242.0 138.0 L242.5 138.0 L243.0 138.0 L243.5 138.0 L244.0 137.9 L244.5 137.9 L245.0 137.9 L245.5 137.9 L246.0 137.9 L246.5 137.8 L247.0 137.8 L247.5 137.8 L248.0 137.8 L248.5 137.8 L249.0 137.7 L249.5 137.7 L250.0 137.7 L250.5 137.7 L251.0 137.7 L251.5 137.6 L252.0 137.6 L252.5 137.6 L253.0 137.6 L253.5 137.5 L254.0 137.5 L254.5 137.5 L255.0 137.5 L255.5 137.4 L256.0 137.4 L256.5 137.4 L257.0 137.3 L257.5 137.3 L258.0 137.3 L258.5 137.3 L259.0 137.2 L259.5 137.2 L260.0 137.2 L260.5 137.2 L261.0 137.1 L261.5 137.1 L262.0 137.1 L262.5 137.1 L263.0 137.0 L263.5 137.0 L264.0 137.0 L264.5 137.0 L265.0 136.9 L265.5 136.9 L266.0 136.9 L266.5 136.8 L267.0 136.8 L267.5 136.8 L268.0 136.8 L268.5 136.7 L269.0 136.7 L269.5 136.7 L270.0 136.6 L270.5 136.6 L271.0 136.6 L271.5 136.5 L272.0 136.5 L272.5 136.5 L273.0 136.4 L273.5 136.4 L274.0 136.4 L274.5 136.3 L275.0 136.3 L275.5 136.3 L276.0 136.2 L276.5 136.2 L277.0 136.1 L277.5 136.1 L278.0 136.1 L278.5 136.0 L279.0 136.0 L279.5 135.9 L280.0 135.9 L280.5 135.8 L281.0 135.8 L281.5 135.8 L282.0 135.7 L282.5 135.7 L283.0 135.6 L283.5 135.6 L284.0 135.5 L284.5 135.5 L285.0 135.4 L285.5 135.4 L286.0 135.3 L286.5 135.3 L287.0 135.3 L287.5 135.2 L288.0 135.2 L288.5 135.1 L289.0 135.1 L289.5 135.0 L290.0 135.0 L290.5 134.9 L291.0 134.9 L291.5 134.8 L292.0 134.8 L292.5 134.7 L293.0 134.7 L293.5 134.6 L294.0 134.6 L294.5 134.5 L295.0 134.5 L295.5 134.4 L296.0 134.4 L296.5 134.3 L297.0 134.3 L297.5 134.2 L298.0 134.2 L298.5 134.1 L299.0 134.1 L299.5 134.0 L302.0 133.8 L305.0 133.5 L308.0 133.2 L311.0 132.9 L314.0 132.6 L317.0 132.2 L320.0 131.9 L323.0 131.6 L326.0 131.3 L329.0 131.0 L332.0 130.6 L335.0 130.3 L338.0 129.9 L341.0 129.6 L344.0 129.3 L347.0 128.9 L350.0 128.5 L353.0 128.2 L356.0 127.8 L359.0 127.4 L362.0 127.1 L365.0 126.7 L368.0 126.3 L371.0 125.9 L374.0 125.5 L377.0 125.1 L380.0 124.7 L383.0 124.3 L386.0 123.9 L389.0 123.5 L392.0 123.1 L395.0 122.7 L398.0 122.3 L401.0 121.9 L404.0 121.5 L407.0 121.1 L410.0 120.6 L413.0 120.2 L416.0 119.8 L419.0 119.4 L422.0 119.0 L425.0 118.6 L428.0 118.2 L431.0 117.8 L434.0 117.4 L437.0 117.0 L440.0 116.6 L443.0 116.2 L446.0 115.9 L449.0 115.5 L452.0 115.1 L455.0 114.7 L458.0 114.3 L461.0 114.0 L464.0 113.6 L467.0 113.2 L470.0 112.8 L473.0 112.4 L476.0 112.1 L479.0 111.7 L482.0 111.3 L485.0 110.9 L488.0 110.5 L491.0 110.1 L494.0 109.7 L497.0 109.3 L500.0 109.0 L503.0 108.6 L506.0 108.2 L509.0 107.8 L512.0 107.4 L515.0 107.0 L518.0 106.7 L521.0 106.3 L524.0 105.9 L527.0 105.5 L530.0 105.2 L533.0 104.8 L536.0 104.4 L539.0 104.1 L542.0 103.7 L545.0 103.4 L548.0 103.0 L551.0 102.7 L554.0 102.3 L557.0 102.0 L560.0 101.6 L563.0 101.3 L566.0 101.0 L569.0 100.7 L572.0 100.4 L575.0 100.1 L578.0 99.8 L581.0 99.5 L584.0 99.2 L587.0 98.9 L590.0 98.6 L593.0 98.4 L596.0 98.1 L599.0 97.8 L602.0 97.5 L605.0 97.3 L608.0 97.0 L611.0 96.7 L614.0 96.5 L617.0 96.2 L620.0 95.9 L623.0 95.7 L626.0 95.4 L629.0 95.1 L632.0 94.9 L635.0 94.6 L638.0 94.4 L641.0 94.1 L644.0 93.8 L647.0 93.6 L650.0 93.3 L653.0 93.1 L656.0 92.9 L659.0 92.6 L662.0 92.4 L665.0 92.2 L668.0 91.9 L671.0 91.7 L674.0 91.5 L677.0 91.3 L680.0 91.1 L683.0 90.9 L686.0 90.7 L689.0 90.5 L692.0 90.3 L695.0 90.1 L698.0 90.0 L701.0 89.8 L704.0 89.6 L707.0 89.4 L710.0 89.3 L713.0 89.1 L716.0 88.9 L719.0 88.8 L722.0 88.6 L725.0 88.5 L728.0 88.3 L731.0 88.2 L734.0 88.0 L737.0 87.9 L740.0 87.7 L743.0 87.6 L746.0 87.5 L749.0 87.4 L752.0 87.3 L755.0 87.1 L758.0 87.0 L761.0 86.9 L764.0 86.8 L767.0 86.8 L770.0 86.7 L773.0 86.6 L776.0 86.5 L779.0 86.4 L782.0 86.3 L785.0 86.2 L788.0 86.2 L791.0 86.1 L794.0 86.0 L797.0 85.9 L800.0 85.9 L803.0 85.8 L806.0 85.7 L809.0 85.7 L812.0 85.6 L815.0 85.5 L818.0 85.5 L821.0 85.4 L824.0 85.3 L827.0 85.3 L830.0 85.2 L833.0 85.2 L836.0 85.1 L839.0 85.1 L842.0 85.0 L845.0 84.9 L848.0 84.9 L851.0 84.8 L854.0 84.8 L857.0 84.7 L860.0 84.7 L863.0 84.6 L866.0 84.6 L869.0 84.5 L872.0 84.5 L875.0 84.4 L878.0 84.4 L881.0 84.3 L884.0 84.3 L887.0 84.3 L890.0 84.2 L893.0 84.2 L896.0 84.1 L899.0 84.1 L902.0 84.0 L905.0 84.0 L908.0 84.0 L911.0 83.9 L914.0 83.9 L917.0 83.9 L920.0 83.8 L923.0 83.8 L926.0 83.8 L929.0 83.7 L932.0 83.7 L935.0 83.7 L938.0 83.7 L941.0 83.6 L944.0 83.6 L947.0 83.6 L950.0 83.6 L953.0 83.6 L956.0 83.5 L959.0 83.5 L962.0 83.5 L965.0 83.5 L968.0 83.5 L971.0 83.4 L974.0 83.4 L977.0 83.4 L980.0 83.4 L983.0 83.4 L986.0 83.4 L989.0 83.3 L992.0 83.3 L995.0 83.3 L998.0 83.3 L1001.0 83.3 L1004.0 83.3 L1007.0 83.3 L1010.0 83.2 L1013.0 83.2 L1016.0 83.2 L1019.0 83.2 L1022.0 83.2 L1025.0 83.2 L1028.0 83.2 L1031.0 83.2 L1034.0 83.2 L1037.0 83.2 L1040.0 83.1 L1043.0 83.1 L1046.0 83.1 L1049.0 83.1 L1052.0 83.1 L1055.0 83.1 L1058.0 83.1 L1061.0 83.1 L1064.0 83.1 L1067.0 83.1 L1070.0 83.1 L1073.0 83.1 L1076.0 83.0 L1079.0 83.0 L1082.0 83.0 L1085.0 83.0 L1088.0 83.0 L1091.0 83.0 L1094.0 83.0 L1097.0 83.0 L1100.0 83.0 L1103.0 83.0 L1106.0 83.0 L1109.0 83.0 L1112.0 83.0 L1115.0 83.0 L1118.0 83.0 L1121.0 83.0 L1124.0 83.0 L1127.0 83.0 L1130.0 83.0 L1133.0 83.0 L1136.0 83.0 L1139.0 83.0 L1142.0 83.0 L1145.0 83.0 L1148.0 83.0 L1151.0 83.0 L1154.0 83.0 L1157.0 83.0 L1160.0 83.0 L1163.0 83.0 L1166.0 83.0 L1169.0 83.0 L1172.0 83.0 L1175.0 83.0 L1178.0 83.0 L1181.0 83.0 L1184.0 83.0 L1187.0 83.0 L1190.0 83.0 L1193.0 83.0 L1196.0 83.0 L1199.0 83.0 L1202.0 83.0 L1205.0 83.0 L1208.0 83.0 L1211.0 83.0 L1214.0 83.0 L1217.0 83.0 L1220.0 83.0 L1223.0 83.0 L1226.0 83.0 L1229.0 83.0 L1232.0 83.0 L1235.0 83.0 L1238.0 83.0 L1241.0 83.0 L1244.0 83.0 L1247.0 83.0 L1250.0 83.0 L1253.0 83.0 L1256.0 83.0 L1259.0 83.0 L1262.0 83.0 L1265.0 83.0 L1268.0 83.0 L1271.0 83.0 L1274.0 83.0 L1277.0 83.0 L1280.0 83.0 L1283.0 83.0 L1286.0 83.0 L1289.0 83.0 L1292.0 83.0 L1295.0 83.0 L1298.0 83.0 L1301.0 83.0 L1304.0 83.0 L1307.0 83.0 L1310.0 83.0 L1313.0 83.0 L1316.0 83.0 L1319.0 83.0 L1322.0 83.0 L1325.0 83.0 L1328.0 83.0 L1331.0 83.0 L1334.0 83.0 L1337.0 83.0 L1340.0 83.0 L1343.0 83.0 L1346.0 83.0 L1349.0 83.0 L1352.0 83.0 L1355.0 83.0 L1358.0 83.0 L1361.0 83.0 L1364.0 83.0 L1367.0 83.0 L1370.0 83.0 L1373.0 83.0 L1376.0 83.0 L1379.0 83.0 L1382.0 83.0 L1385.0 83.0 L1388.0 83.0 L1391.0 83.0 L1394.0 83.0 L1397.0 83.0 L1400.0 83.0 L1403.0 83.0 L1406.0 83.0 L1409.0 83.0 L1412.0 83.0 L1415.0 83.0 L1418.0 83.0 L1421.0 83.0 L1424.0 83.0 L1427.0 83.0 L1430.0 83.0 L1433.0 83.0 L1436.0 83.0 L1439.0 83.0 L1442.0 83.0 L1445.0 83.0 L1448.0 83.0 L1451.0 83.0 L1454.0 83.0 L1457.0 83.0 L1460.0 83.0 L1463.0 83.0 L1466.0 83.0 L1469.0 83.0 L1472.0 83.0 L1475.0 83.0 L1478.0 83.0 L1481.0 83.0 L1484.0 83.0 L1487.0 83.0 L1490.0 83.0 L1493.0 83.0 L1496.0 83.0 L1499.0 83.0 L1502.0 83.0 L1505.0 83.0 L1508.0 83.0 L1511.0 83.0 L1514.0 83.0 L1517.0 83.0 L1520.0 83.0 L1523.0 83.0 L1526.0 83.0 L1529.0 83.0 L1532.0 83.0 L1535.0 83.0 L1538.0 83.0 L1541.0 83.0 L1544.0 83.0 L1547.0 83.0 L1550.0 83.0 L1553.0 83.0 L1556.0 83.0 L1559.0 83.0 L1562.0 83.0 L1565.0 83.0 L1568.0 83.0 L1571.0 83.0 L1574.0 83.0 L1577.0 83.0 L1580.0 83.0" stroke="#2ca02c"/>
<path class="ln" d="M221.0 397.0 L221.5 396.1 L222.0 395.3 L222.5 394.5 L223.0 393.8 L223.5 393.1 L224.0 392.4 L224.5 391.8 L225.0 391.2 L225.5 390.6 L226.0 390.0 L226.5 389.5 L227.0 389.0 L227.5 388.6 L228.0 388.2 L228.5 387.8 L229.0 387.5 L229.5 387.2 L230.0 386.9 L230.5 386.7 L231.0 386.4 L231.5 386.2 L232.0 385.9 L232.5 385.7 L233.0 385.5 L233.5 385.3 L234.0 385.1 L234.5 384.9 L235.0 384.6 L235.5 384.4 L236.0 384.2 L236.5 384.0 L237.0 383.7 L237.5 383.5 L238.0 383.3 L238.5 383.1 L239.0 382.9 L239.5 382.6 L240.0 382.4 L240.5 382.2 L241.0 382.0 L241.5 381.8 L242.0 381.5 L242.5 381.3 L243.0 381.1 L243.5 380.9 L244.0 380.7 L244.5 380.4 L245.0 380.2 L245.5 380.0 L246.0 379.7 L246.5 379.5 L247.0 379.3 L247.5 379.0 L248.0 378.8 L248.5 378.6 L249.0 378.4 L249.5 378.1 L250.0 377.9 L250.5 377.7 L251.0 377.5 L251.5 377.2 L252.0 377.0 L252.5 376.8 L253.0 376.6 L253.5 376.4 L254.0 376.1 L254.5 375.9 L255.0 375.7 L255.5 375.5 L256.0 375.3 L256.5 375.1 L257.0 374.8 L257.5 374.6 L258.0 374.4 L258.5 374.2 L259.0 374.0 L259.5 373.8 L260.0 373.6 L260.5 373.4 L261.0 373.2 L261.5 372.9 L262.0 372.7 L262.5 372.5 L263.0 372.3 L263.5 372.1 L264.0 371.9 L264.5 371.7 L265.0 371.5 L265.5 371.3 L266.0 371.1 L266.5 370.9 L267.0 370.6 L267.5 370.4 L268.0 370.2 L268.5 370.0 L269.0 369.8 L269.5 369.6 L270.0 369.4 L270.5 369.2 L271.0 369.0 L271.5 368.8 L272.0 368.6 L272.5 368.4 L273.0 368.2 L273.5 368.0 L274.0 367.8 L274.5 367.6 L275.0 367.4 L275.5 367.2 L276.0 367.0 L276.5 366.8 L277.0 366.6 L277.5 366.4 L278.0 366.2 L278.5 366.0 L279.0 365.8 L279.5 365.6 L280.0 365.4 L280.5 365.2 L281.0 365.0 L281.5 364.8 L282.0 364.6 L282.5 364.4 L283.0 364.2 L283.5 364.0 L284.0 363.8 L284.5 363.6 L285.0 363.4 L285.5 363.2 L286.0 363.0 L286.5 362.8 L287.0 362.6 L287.5 362.4 L288.0 362.2 L288.5 362.0 L289.0 361.8 L289.5 361.6 L290.0 361.4 L290.5 361.2 L291.0 361.0 L291.5 360.8 L292.0 360.6 L292.5 360.4 L293.0 360.2 L293.5 360.0 L294.0 359.8 L294.5 359.6 L295.0 359.4 L295.5 359.2 L296.0 359.1 L296.5 358.9 L297.0 358.7 L297.5 358.5 L298.0 358.3 L298.5 358.1 L299.0 357.9 L299.5 357.7 L302.0 356.7 L305.0 355.6 L308.0 354.4 L311.0 353.3 L314.0 352.1 L317.0 351.0 L320.0 349.9 L323.0 348.7 L326.0 347.6 L329.0 346.5 L332.0 345.4 L335.0 344.3 L338.0 343.1 L341.0 342.0 L344.0 340.9 L347.0 339.8 L350.0 338.7 L353.0 337.6 L356.0 336.5 L359.0 335.4 L362.0 334.3 L365.0 333.1 L368.0 332.0 L371.0 330.9 L374.0 329.8 L377.0 328.7 L380.0 327.6 L383.0 326.5 L386.0 325.4 L389.0 324.3 L392.0 323.3 L395.0 322.2 L398.0 321.1 L401.0 320.1 L404.0 319.1 L407.0 318.0 L410.0 317.0 L413.0 316.0 L416.0 315.0 L419.0 314.0 L422.0 313.1 L425.0 312.1 L428.0 311.1 L431.0 310.2 L434.0 309.2 L437.0 308.3 L440.0 307.3 L443.0 306.4 L446.0 305.4 L449.0 304.5 L452.0 303.6 L455.0 302.6 L458.0 301.7 L461.0 300.7 L464.0 299.8 L467.0 298.8 L470.0 297.9 L473.0 296.9 L476.0 296.0 L479.0 295.0 L482.0 294.0 L485.0 293.0 L488.0 292.1 L491.0 291.1 L494.0 290.1 L497.0 289.1 L500.0 288.0 L503.0 287.0 L506.0 286.0 L509.0 285.1 L512.0 284.1 L515.0 283.1 L518.0 282.2 L521.0 281.2 L524.0 280.3 L527.0 279.4 L530.0 278.5 L533.0 277.7 L536.0 276.8 L539.0 276.0 L542.0 275.1 L545.0 274.3 L548.0 273.5 L551.0 272.7 L554.0 271.9 L557.0 271.2 L560.0 270.4 L563.0 269.6 L566.0 268.9 L569.0 268.1 L572.0 267.4 L575.0 266.7 L578.0 265.9 L581.0 265.2 L584.0 264.5 L587.0 263.8 L590.0 263.1 L593.0 262.4 L596.0 261.7 L599.0 261.0 L602.0 260.3 L605.0 259.6 L608.0 258.9 L611.0 258.3 L614.0 257.6 L617.0 256.9 L620.0 256.2 L623.0 255.5 L626.0 254.9 L629.0 254.2 L632.0 253.5 L635.0 252.9 L638.0 252.2 L641.0 251.6 L644.0 250.9 L647.0 250.3 L650.0 249.7 L653.0 249.1 L656.0 248.5 L659.0 247.9 L662.0 247.3 L665.0 246.7 L668.0 246.2 L671.0 245.7 L674.0 245.1 L677.0 244.6 L680.0 244.1 L683.0 243.6 L686.0 243.1 L689.0 242.6 L692.0 242.1 L695.0 241.7 L698.0 241.2 L701.0 240.7 L704.0 240.3 L707.0 239.9 L710.0 239.4 L713.0 239.0 L716.0 238.6 L719.0 238.2 L722.0 237.7 L725.0 237.3 L728.0 237.0 L731.0 236.6 L734.0 236.2 L737.0 235.8 L740.0 235.5 L743.0 235.1 L746.0 234.7 L749.0 234.4 L752.0 234.1 L755.0 233.7 L758.0 233.4 L761.0 233.1 L764.0 232.8 L767.0 232.5 L770.0 232.2 L773.0 231.9 L776.0 231.6 L779.0 231.3 L782.0 231.0 L785.0 230.8 L788.0 230.5 L791.0 230.2 L794.0 229.9 L797.0 229.7 L800.0 229.4 L803.0 229.1 L806.0 228.9 L809.0 228.7 L812.0 228.4 L815.0 228.2 L818.0 228.0 L821.0 227.7 L824.0 227.5 L827.0 227.3 L830.0 227.1 L833.0 226.9 L836.0 226.8 L839.0 226.6 L842.0 226.4 L845.0 226.3 L848.0 226.1 L851.0 226.0 L854.0 225.9 L857.0 225.8 L860.0 225.6 L863.0 225.5 L866.0 225.4 L869.0 225.3 L872.0 225.2 L875.0 225.1 L878.0 225.0 L881.0 224.9 L884.0 224.8 L887.0 224.7 L890.0 224.6 L893.0 224.5 L896.0 224.4 L899.0 224.3 L902.0 224.2 L905.0 224.1 L908.0 224.0 L911.0 223.9 L914.0 223.8 L917.0 223.6 L920.0 223.5 L923.0 223.4 L926.0 223.3 L929.0 223.2 L932.0 223.1 L935.0 223.0 L938.0 222.9 L941.0 222.8 L944.0 222.7 L947.0 222.6 L950.0 222.5 L953.0 222.4 L956.0 222.3 L959.0 222.2 L962.0 222.1 L965.0 222.1 L968.0 222.0 L971.0 221.9 L974.0 221.8 L977.0 221.8 L980.0 221.7 L983.0 221.6 L986.0 221.6 L989.0 221.5 L992.0 221.5 L995.0 221.4 L998.0 221.3 L1001.0 221.3 L1004.0 221.2 L1007.0 221.2 L1010.0 221.1 L1013.0 221.1 L1016.0 221.0 L1019.0 221.0 L1022.0 220.9 L1025.0 220.9 L1028.0 220.9 L1031.0 220.8 L1034.0 220.8 L1037.0 220.7 L1040.0 220.7 L1043.0 220.7 L1046.0 220.7 L1049.0 220.6 L1052.0 220.6 L1055.0 220.6 L1058.0 220.5 L1061.0 220.5 L1064.0 220.5 L1067.0 220.5 L1070.0 220.5 L1073.0 220.4 L1076.0 220.4 L1079.0 220.4 L1082.0 220.4 L1085.0 220.4 L1088.0 220.4 L1091.0 220.3 L1094.0 220.3 L1097.0 220.3 L1100.0 220.3 L1103.0 220.3 L1106.0 220.3 L1109.0 220.2 L1112.0 220.2 L1115.0 220.2 L1118.0 220.2 L1121.0 220.2 L1124.0 220.2 L1127.0 220.2 L1130.0 220.2 L1133.0 220.2 L1136.0 220.1 L1139.0 220.1 L1142.0 220.1 L1145.0 220.1 L1148.0 220.1 L1151.0 220.1 L1154.0 220.1 L1157.0 220.1 L1160.0 220.1 L1163.0 220.1 L1166.0 220.1 L1169.0 220.1 L1172.0 220.1 L1175.0 220.0 L1178.0 220.0 L1181.0 220.0 L1184.0 220.0 L1187.0 220.0 L1190.0 220.0 L1193.0 220.0 L1196.0 220.0 L1199.0 220.0 L1202.0 220.0 L1205.0 220.0 L1208.0 220.0 L1211.0 220.0 L1214.0 220.0 L1217.0 220.0 L1220.0 220.0 L1223.0 220.0 L1226.0 220.0 L1229.0 220.0 L1232.0 220.0 L1235.0 220.0 L1238.0 220.0 L1241.0 220.0 L1244.0 220.0 L1247.0 220.0 L1250.0 220.0 L1253.0 220.0 L1256.0 219.9 L1259.0 219.9 L1262.0 219.9 L1265.0 219.9 L1268.0 219.9 L1271.0 219.9 L1274.0 219.9 L1277.0 219.9 L1280.0 219.9 L1283.0 219.9 L1286.0 219.9 L1289.0 219.9 L1292.0 219.9 L1295.0 219.9 L1298.0 219.9 L1301.0 219.9 L1304.0 219.9 L1307.0 219.9 L1310.0 219.9 L1313.0 219.9 L1316.0 219.9 L1319.0 219.9 L1322.0 219.9 L1325.0 219.9 L1328.0 219.9 L1331.0 219.9 L1334.0 219.9 L1337.0 219.9 L1340.0 219.9 L1343.0 219.9 L1346.0 219.9 L1349.0 219.9 L1352.0 219.9 L1355.0 219.9 L1358.0 219.9 L1361.0 219.9 L1364.0 219.9 L1367.0 219.9 L1370.0 219.9 L1373.0 219.9 L1376.0 219.9 L1379.0 219.9 L1382.0 219.9 L1385.0 219.9 L1388.0 219.9 L1391.0 219.9 L1394.0 219.9 L1397.0 219.9 L1400.0 219.9 L1403.0 219.9 L1406.0 219.9 L1409.0 219.9 L1412.0 219.9 L1415.0 219.9 L1418.0 219.9 L1421.0 219.9 L1424.0 219.9 L1427.0 219.9 L1430.0 219.9 L1433.0 219.9 L1436.0 219.9 L1439.0 219.9 L1442.0 219.9 L1445.0 219.9 L1448.0 219.9 L1451.0 219.9 L1454.0 219.9 L1457.0 219.9 L1460.0 219.9 L1463.0 219.9 L1466.0 219.9 L1469.0 219.9 L1472.0 219.9 L1475.0 219.9 L1478.0 219.9 L1481.0 219.9 L1484.0 219.9 L1487.0 219.9 L1490.0 219.9 L1493.0 219.9 L1496.0 219.9 L1499.0 219.9 L1502.0 219.9 L1505.0 219.9 L1508.0 219.9 L1511.0 219.9 L1514.0 219.9 L1517.0 219.9 L1520.0 219.9 L1523.0 219.9 L1526.0 219.9 L1529.0 219.9 L1532.0 219.9 L1535.0 219.9 L1538.0 219.9 L1541.0 219.9 L1544.0 219.9 L1547.0 219.9 L1550.0 219.9 L1553.0 219.9 L1556.0 219.9 L1559.0 219.9 L1562.0 219.9 L1565.0 219.9 L1568.0 219.9 L1571.0 219.9 L1574.0 219.9 L1577.0 219.9 L1580.0 219.9" stroke="#d62728"/>
</g>
<g stroke="#000" fill="none">
<rect x="1648" y="663.0" width="10" height="5" fill="#000" stroke="none"/>
<rect x="1648" y="529.0" width="10" height="5" fill="#000" stroke="none"/>
<rect x="1648" y="395.0" width="10" height="5" fill="#000" stroke="none"/>
<rect x="1648" y="261.0" width="10" height="5" fill="#000" stroke="none"/>
<rect x="1648" y="127.0" width="10" height="5" fill="#000" stroke="none"/>
</g>
<rect x="153" y="51" width="1495" height="703" fill="none" stroke="#000" stroke-width="6"/>
<rect x="1342.5" y="77.5" width="281.5" height="314.5" rx="6" ry="6" fill="#fff" fill-opacity="0.8" stroke="#e8e8e8" stroke-width="3"/>
<line x1="1358" y1="116.50" x2="1468" y2="116.50" stroke="#1f77b4" stroke-width="7"/>
<text transform="translate(1505.5 135.3) scale(1 1.0)" class="m">X<tspan dx="-1" dy="7.6" font-size="37.1">m<tspan class="mr">1</tspan></tspan></text>
<line x1="1358" y1="190.65" x2="1468" y2="190.65" stroke="#ff7f0e" stroke-width="7"/>
<text transform="translate(1505.5 209.4) scale(1 1.0)" class="m">R<tspan dx="-1" dy="7.6" font-size="37.1">L</tspan></text>
<line x1="1358" y1="264.80" x2="1468" y2="264.80" stroke="#2ca02c" stroke-width="7"/>
<text transform="translate(1505.5 283.4) scale(1 1.0)" class="m">X<tspan dx="-1" dy="7.6" font-size="37.1">L</tspan></text>
<line x1="1358" y1="338.95" x2="1468" y2="338.95" stroke="#d62728" stroke-width="7"/>
<text transform="translate(1505.5 357.4) scale(1 1.0)" class="m">X<tspan dx="-1" dy="7.6" font-size="37.1">c</tspan></text>
<text transform="translate(133.6 767.7) scale(1 1.0157)" class="b" text-anchor="end" letter-spacing="-0.5">0</text>
<text transform="translate(133.6 646.2) scale(1 1.0157)" class="b" text-anchor="end" letter-spacing="-0.5">5</text>
<text transform="translate(133.6 524.7) scale(1 1.0157)" class="b" text-anchor="end" letter-spacing="-0.5">10</text>
<text transform="translate(133.6 402.7) scale(1 1.0157)" class="b" text-anchor="end" letter-spacing="-0.5">15</text>
<text transform="translate(133.6 281.2) scale(1 1.0157)" class="b" text-anchor="end" letter-spacing="-0.5">20</text>
<text transform="translate(133.6 159.7) scale(1 1.0157)" class="b" text-anchor="end" letter-spacing="-0.5">25</text>
<text transform="translate(1666.0 683.7) scale(1 1.0157)" letter-spacing="-0.4">20</text>
<text transform="translate(1666.0 549.7) scale(1 1.0157)" letter-spacing="-0.4">30</text>
<text transform="translate(1666.0 415.7) scale(1 1.0157)" letter-spacing="-0.4">40</text>
<text transform="translate(1666.0 281.7) scale(1 1.0157)" letter-spacing="-0.4">50</text>
<text transform="translate(1666.0 147.7) scale(1 1.0157)" letter-spacing="-0.4">60</text>
<text transform="translate(221.3 808.3) scale(1 1.0157)" text-anchor="middle" letter-spacing="-0.7">0</text>
<text transform="translate(399.3 808.3) scale(1 1.0157)" text-anchor="middle" letter-spacing="-0.7">250</text>
<text transform="translate(577.3 808.3) scale(1 1.0157)" text-anchor="middle" letter-spacing="-0.7">500</text>
<text transform="translate(755.3 808.3) scale(1 1.0157)" text-anchor="middle" letter-spacing="-0.7">750</text>
<text transform="translate(933.3 808.3) scale(1 1.0157)" text-anchor="middle" letter-spacing="-0.7">1000</text>
<text transform="translate(1111.3 808.3) scale(1 1.0157)" text-anchor="middle" letter-spacing="-0.7">1250</text>
<text transform="translate(1289.3 808.3) scale(1 1.0157)" text-anchor="middle" letter-spacing="-0.7">1500</text>
<text transform="translate(1467.3 808.3) scale(1 1.0157)" text-anchor="middle" letter-spacing="-0.7">1750</text>
<text transform="translate(1645.3 808.3) scale(1 1.0157)" text-anchor="middle" letter-spacing="-0.7">2000</text>
<text transform="translate(900.7 867.0) scale(1 1.0157)" text-anchor="middle" textLength="175.8" lengthAdjust="spacing">Iteration</text>
<text transform="translate(62.3 402.5) rotate(-90) scale(1.0 1)" class="b" text-anchor="middle">Loss</text>
<text transform="translate(1766.0 399.7) rotate(-90) scale(1.008 1)" text-anchor="middle">Parameter Value</text>
<text transform="scale(0.92 1)" y="1056.7" style="stroke-width:0"><tspan x="929.70" style="font-size:86.1px">(</tspan><tspan x="960.23" style="font-size:86.8px;font-weight:bold">c</tspan><tspan x="999.08" style="font-size:86.1px">)</tspan></text>
</svg>
</body></html>
